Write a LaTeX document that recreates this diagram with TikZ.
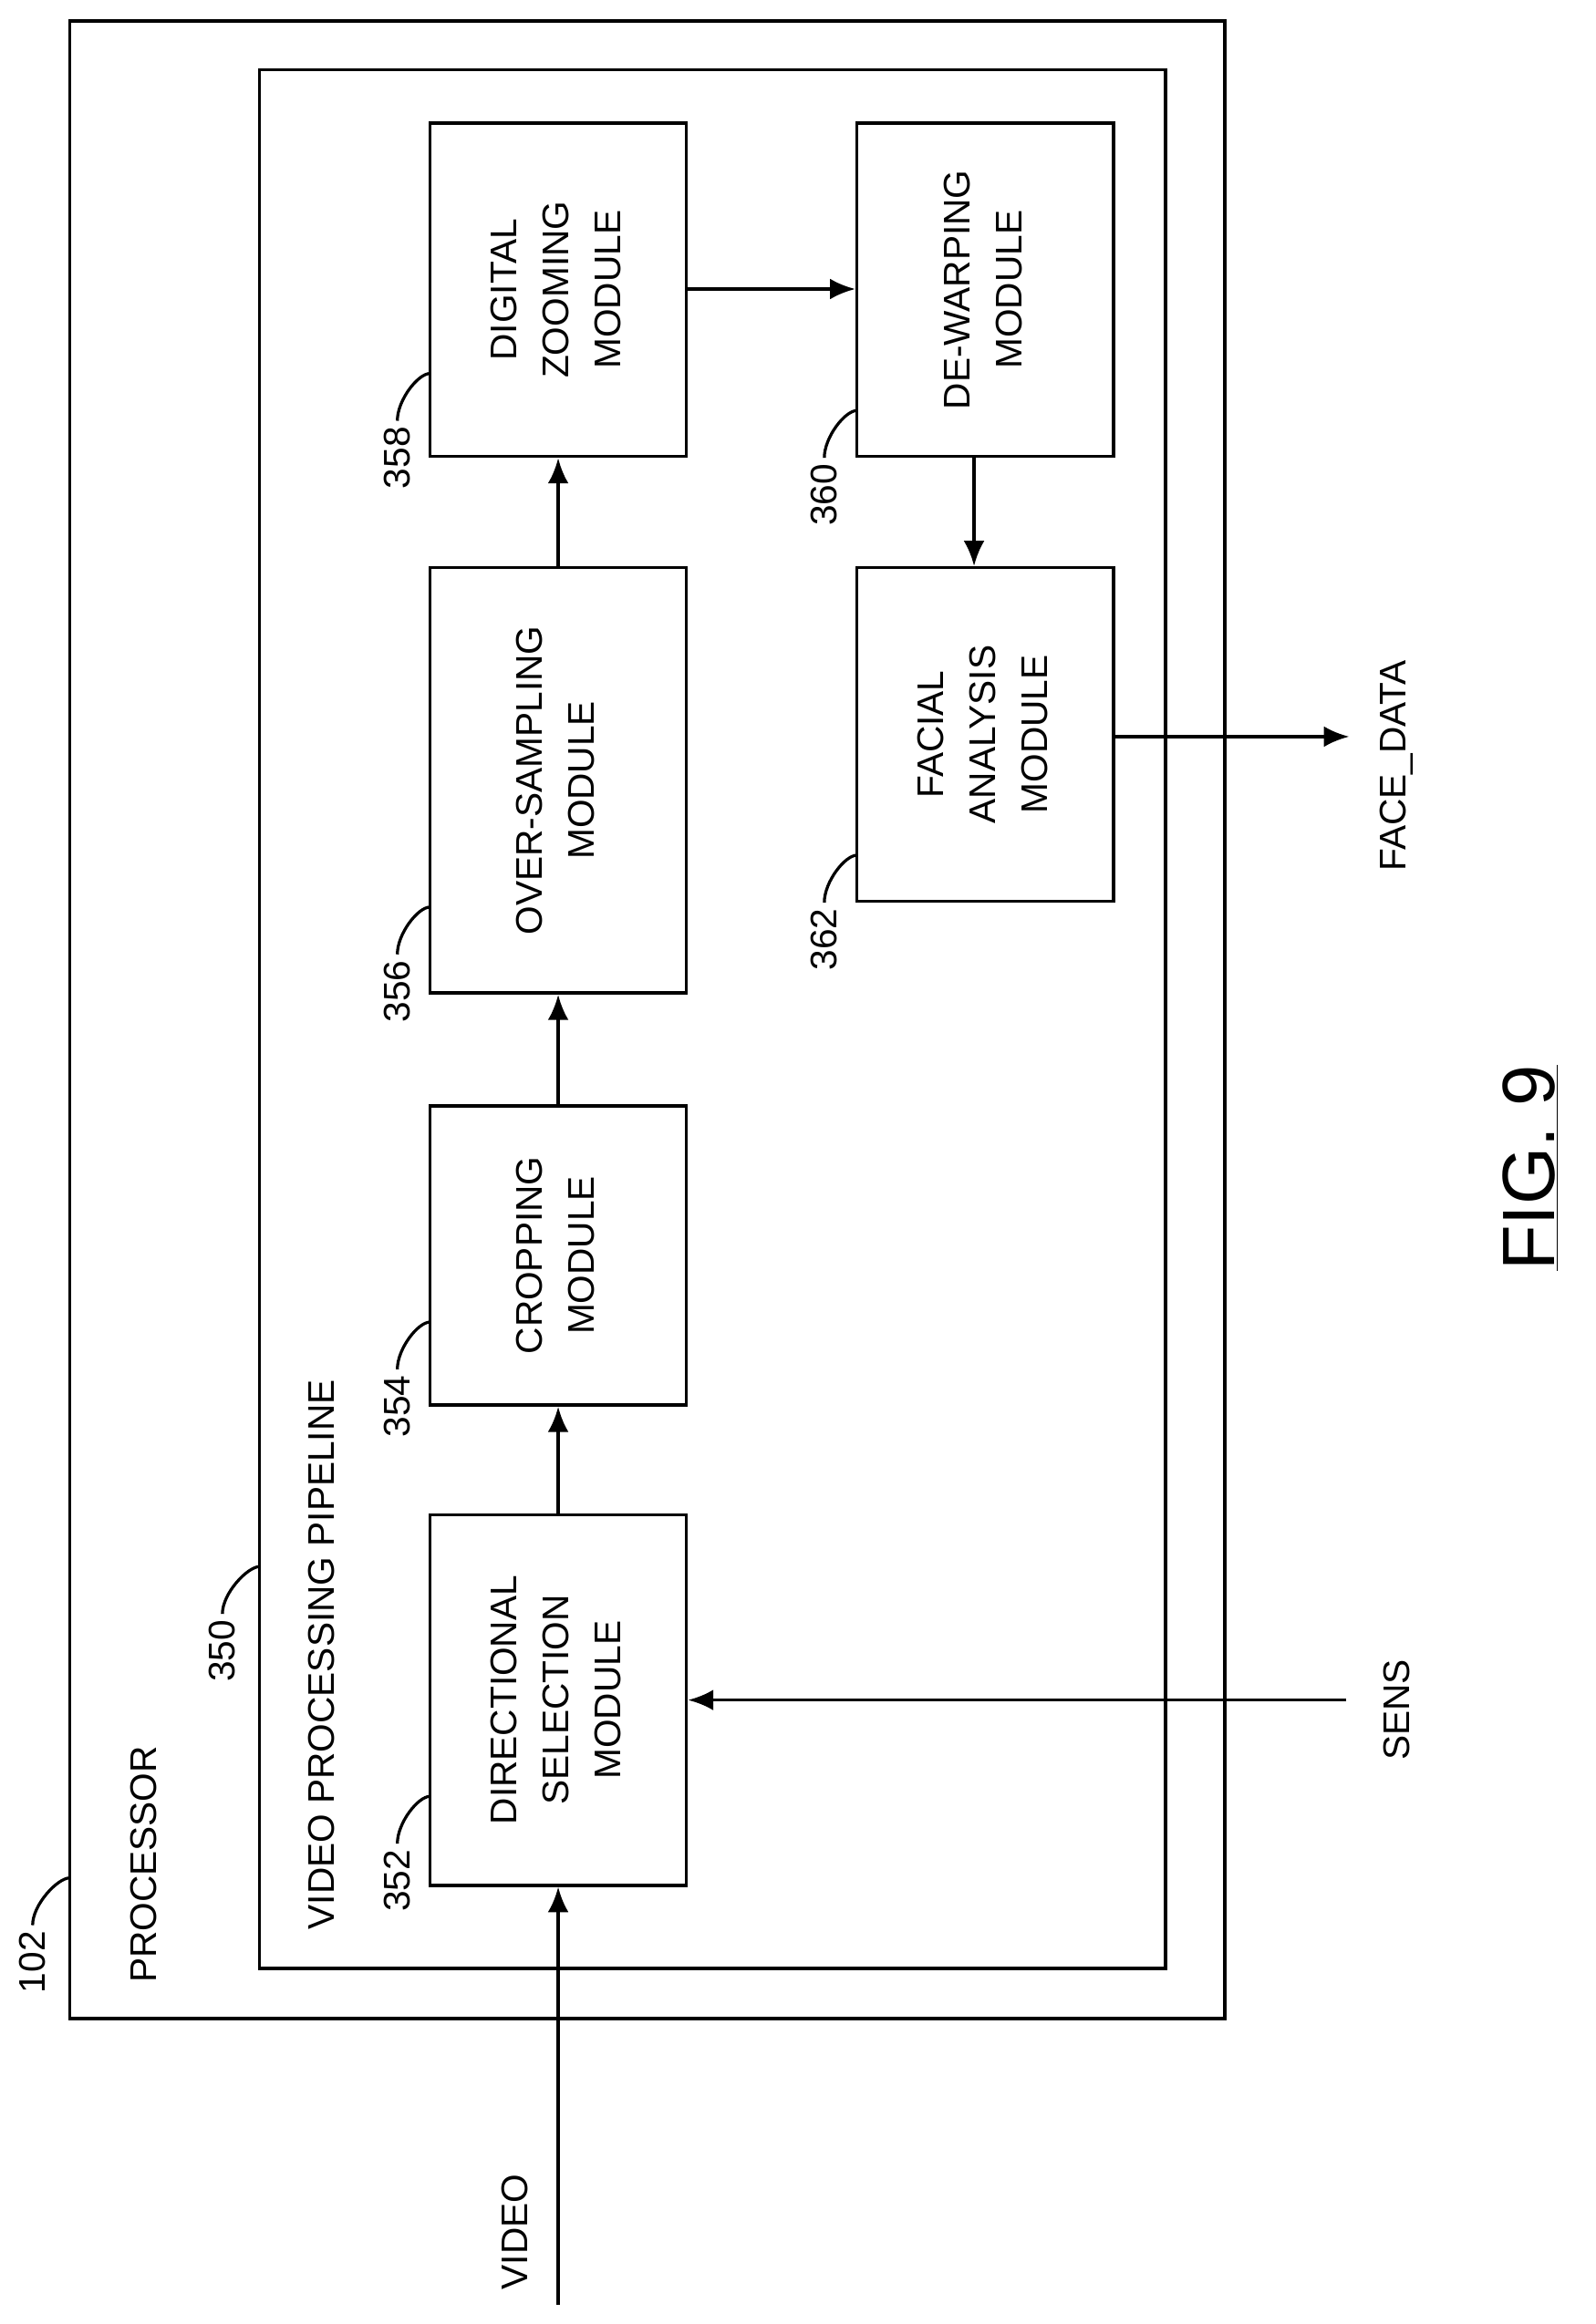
\documentclass[tikz,border=0pt]{standalone}
\usepackage{fontspec}
\setmainfont{Liberation Sans}
\begin{document}
\begin{tikzpicture}[x=1pt,y=-1pt,
  box/.style={draw,line width=2.2pt,minimum width=173pt,align=center,inner sep=0pt,font=\fontsize{25}{35}\selectfont},
  lbl/.style={font=\fontsize{25}{30}\selectfont,rotate=90,inner sep=0pt},
  ar/.style={line width=2.2pt,-{Latex[length=17pt,width=14pt]}},
  ld/.style={line width=2pt}]
\useasboundingbox (0,0) rectangle (1076,1568);
\usetikzlibrary{arrows.meta}
\draw[line width=2.2pt] (47,14) rectangle (826,1362);
\draw[line width=2.2pt] (175,47) rectangle (786,1328);
\node[box,minimum height=250pt] (b352) at (376.5,1147) {\rotatebox{90}{\begin{tabular}{c}DIRECTIONAL\\SELECTION\\MODULE\end{tabular}}};
\node[box,minimum height=202pt] (b354) at (376.5,847) {\rotatebox{90}{\begin{tabular}{c}CROPPING\\MODULE\end{tabular}}};
\node[box,minimum height=287pt] (b356) at (376.5,526.5) {\rotatebox{90}{\begin{tabular}{c}OVER-SAMPLING\\MODULE\end{tabular}}};
\node[box,minimum height=225pt] (b358) at (376.5,195.5) {\rotatebox{90}{\begin{tabular}{c}DIGITAL\\ZOOMING\\MODULE\end{tabular}}};
\node[box,minimum height=225pt] (b360) at (664.5,195.5) {\rotatebox{90}{\begin{tabular}{c}DE-WARPING\\MODULE\end{tabular}}};
\node[box,minimum height=225pt] (b362) at (664.5,495.5) {\rotatebox{90}{\begin{tabular}{c}FACIAL\\ANALYSIS\\MODULE\end{tabular}}};
% labels
\node[lbl,anchor=west] (proc) at (97,1338) {PROCESSOR};
\node[lbl,anchor=west] (vpp) at (217,1302) {VIDEO PROCESSING PIPELINE};
\node[lbl,anchor=west] (vid) at (347,1545) {VIDEO};
\node[lbl,anchor=west] (sens) at (942,1188) {SENS};
\node[lbl,anchor=west] (fd) at (942,588) {FACE\_DATA};
\node[rotate=90,font=\fontsize{50}{55}\selectfont,inner sep=0pt] (fig) at (1032,788) {\underline{FIG. 9}};
% connectors
\coordinate (vin) at (376.5,1555);
\coordinate (sin) at (908,1147);
\coordinate (fout) at (910,497);
\draw[ar] (vin) -- (b352.south);
\draw[ar] (sin) -- (b352.east);
\draw[ar] (b352.north) -- (b354.south);
\draw[ar] (b354.north) -- (b356.south);
\draw[ar] (b356.north) -- (b358.south);
\draw[ar] (b358.east|-0,195) -- (b360.west|-0,195);
\draw[ar] (b360.south-|657,0) -- (b362.north-|657,0);
\draw[ar] (b362.east|-0,497) -- (fout);
% ref numbers
\foreach \n/\x/\y/\tx in {102/22/1345/47, 350/150/1135/175, 352/268/1290/290, 354/268/970/290, 356/268/690/290, 358/268/330/290, 360/556/355/578, 362/556/655/578}{
  \node[lbl,anchor=west] (r\n) at (\x,\y) {\n};
  \draw[ld] (r\n.east) ++(0,-4) .. controls +(0,-14) and +(-8,0) .. (\tx,\y-78);
}
\end{tikzpicture}
\end{document}
